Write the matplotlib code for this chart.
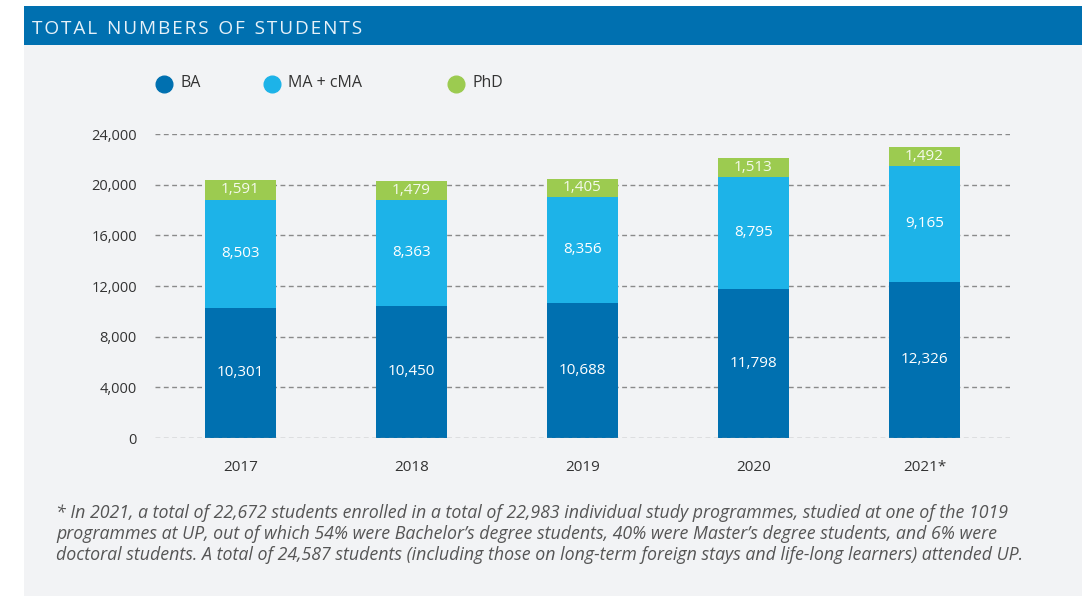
import matplotlib.pyplot as plt
from matplotlib.patches import Rectangle
from matplotlib.lines import Line2D

years = ['2017', '2018', '2019', '2020', '2021*']
ba = [10301, 10450, 10688, 11798, 12326]
ma = [8503, 8363, 8356, 8795, 9165]
phd = [1591, 1479, 1405, 1513, 1492]
yticks = [0, 4000, 8000, 12000, 16000, 20000, 24000]

c_ba = '#0070B0'
c_ma = '#1DB3E8'
c_phd = '#9CCB50'
panel = '#F2F3F5'
txt = '#333333'

plt.rcParams['font.family'] = ['Open Sans', 'DejaVu Sans']

fig = plt.figure(figsize=(10.87, 5.96), dpi=100)
fig.patch.set_facecolor('white')

# grey panel and blue header band
fig.patches.append(Rectangle((24 / 1087, 0), (1082 - 24) / 1087, 1 - 45 / 596,
                             transform=fig.transFigure, facecolor=panel,
                             edgecolor='none', zorder=-10))
fig.patches.append(Rectangle((24 / 1087, 1 - 45 / 596), (1082 - 24) / 1087, 39 / 596,
                             transform=fig.transFigure, facecolor=c_ba,
                             edgecolor='none', zorder=-10))
title = '\u200a'.join('TOTAL NUMBERS OF STUDENTS').replace('\u200a \u200a', '  ')
fig.text(32 / 1087, 1 - 29 / 596, title, color='#E6F1F9', fontsize=13.7, va='center', ha='left')

ax = fig.add_axes([155 / 1087, 1 - 438 / 596, (1010 - 155) / 1087, (438 - 134) / 596])
ax.set_facecolor('none')

x = list(range(len(years)))
w = 0.41
ma_bottom = ba
phd_bottom = [b + m for b, m in zip(ba, ma)]
ax.bar(x, ba, w, color=c_ba, zorder=3)
ax.bar(x, ma, w, bottom=ma_bottom, color=c_ma, zorder=3)
ax.bar(x, phd, w, bottom=phd_bottom, color=c_phd, zorder=3)

for i in x:
    ax.text(i, ba[i] / 2, f'{ba[i]:,}', ha='center', va='center', color='white', fontsize=11, zorder=4)
    ax.text(i, ma_bottom[i] + ma[i] / 2, f'{ma[i]:,}', ha='center', va='center', color='white', fontsize=11, zorder=4)
    ax.text(i, phd_bottom[i] + phd[i] / 2, f'{phd[i]:,}', ha='center', va='center', color='#F4F9EC', fontsize=11, zorder=4)

ax.set_xlim(-0.5, len(years) - 0.5)
ax.set_ylim(0, 24000)
ax.set_yticks(yticks)
ax.set_yticklabels([f'{v:,}' for v in yticks])
ax.set_xticks(x)
ax.set_xticklabels(years)
ax.tick_params(axis='y', length=0, pad=13, labelsize=10.5, labelcolor=txt)
ax.tick_params(axis='x', length=0, pad=16, labelsize=11, labelcolor=txt)
for s in ax.spines.values():
    s.set_visible(False)
for v in yticks:
    ax.axhline(v, color='#8A8A8A', linewidth=1, dashes=(3.5, 2.5), zorder=5 if v == 0 else 1)

# legend
for (px, label, c) in [(164, 'BA', c_ba), (272, 'MA + cMA', c_ma), (456, 'PhD', c_phd)]:
    fig.add_artist(Line2D([px / 1087], [1 - 84 / 596], marker='o', markersize=12,
                          color=c, linestyle='none', transform=fig.transFigure))
    fig.text((px + 16) / 1087, 1 - 83 / 596, label, fontsize=11.5, color=txt, va='center', ha='left')

note = ('* In 2021, a total of 22,672 students enrolled in a total of 22,983 individual study programmes, studied at one of the 1019\n'
        'programmes at UP, out of which 54% were Bachelor\u2019s degree students, 40% were Master\u2019s degree students, and 6% were\n'
        'doctoral students. A total of 24,587 students (including those on long-term foreign stays and life-long learners) attended UP.')
fig.text(56 / 1087, 1 - 534 / 596, note, fontsize=12.8, style='italic', color='#555555',
         va='center', ha='left', linespacing=1.25)

fig.savefig('out.png', dpi=100, facecolor='white')
